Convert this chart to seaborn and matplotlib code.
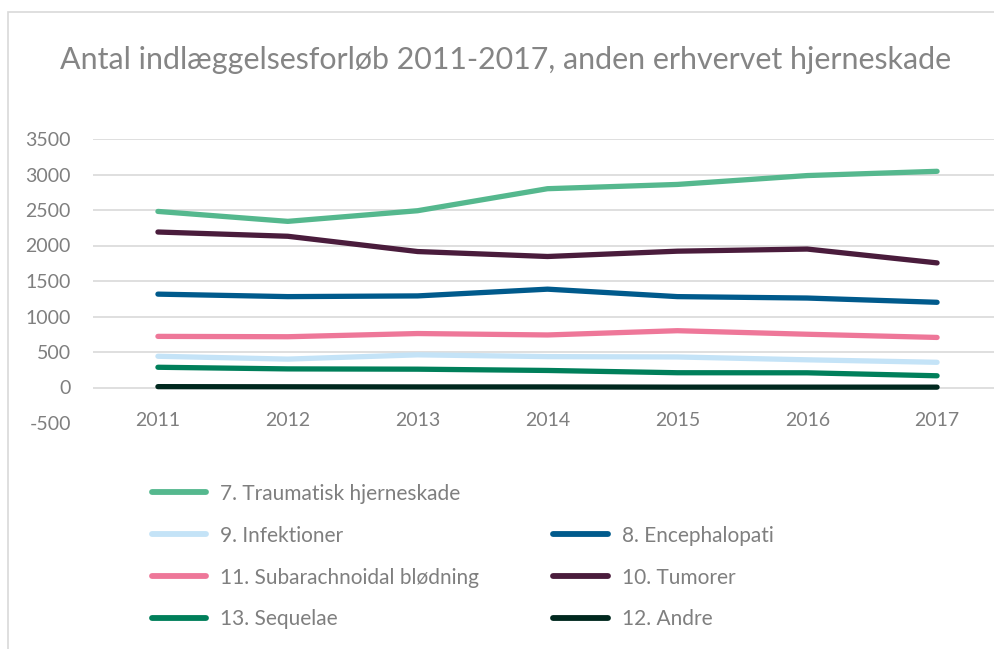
import matplotlib
matplotlib.use("Agg")
import matplotlib.pyplot as plt
from matplotlib.lines import Line2D
from matplotlib.patches import Rectangle
import seaborn as sns
import pandas as pd

years = [2011, 2012, 2013, 2014, 2015, 2016, 2017]
series_names = [
    "7. Traumatisk hjerneskade",
    "8. Encephalopati",
    "9. Infektioner",
    "10. Tumorer",
    "11. Subarachnoidal blødning",
    "12. Andre",
    "13. Sequelae",
]
traumatisk = [2480, 2340, 2490, 2800, 2860, 2985, 3045]
encephalopati = [1315, 1280, 1290, 1385, 1280, 1260, 1200]
infektioner = [440, 400, 460, 435, 430, 390, 355]
tumorer = [2190, 2130, 1915, 1845, 1920, 1950, 1755]
subarachnoidal = [720, 715, 760, 740, 800, 750, 705]
andre = [12, 10, 8, 8, 5, 5, 5]
sequelae = [285, 262, 258, 240, 208, 207, 165]

colors = ["#55B88E", "#005A8C", "#C4E3F7", "#4A1C3C", "#EE7799", "#00281E", "#007F5A"]

values = [traumatisk, encephalopati, infektioner, tumorer, subarachnoidal, andre, sequelae]
rows = []
for name, vals in zip(series_names, values):
    for i, v in enumerate(vals):
        rows.append({"pos": i, "year": years[i], "serie": name, "antal": v})
df = pd.DataFrame(rows)

sns.set_style("white")
plt.rcParams["font.family"] = ["Lato", "DejaVu Sans"]
plt.rcParams["axes.unicode_minus"] = False
grey = "#7F7F7F"

fig = plt.figure(figsize=(9.95, 6.49), dpi=100)
ax = fig.add_axes([93 / 995, 1 - 423 / 649, 909 / 995, 284 / 649])

ax = sns.lineplot(data=df, x="pos", y="antal", hue="serie", hue_order=series_names,
                  palette=colors, linewidth=3.8, ax=ax, legend=False,
                  solid_capstyle="round")

ax.set_xlim(-0.5, 6.5)
ax.set_ylim(-500, 3500)
ax.set_yticks(range(-500, 3501, 500))
ax.set_xticks(range(len(years)))
ax.set_xticklabels([str(y) for y in years])
ax.set_xlabel("")
ax.set_ylabel("")
ax.yaxis.grid(True, color="#D9D9D9", linewidth=1.2)
ax.set_axisbelow(True)
for t in ax.yaxis.get_gridlines()[:1]:
    t.set_visible(False)
for s in ax.spines.values():
    s.set_visible(False)
ax.tick_params(axis="y", length=0, pad=16, labelsize=14, labelcolor=grey)
ax.tick_params(axis="x", length=0, pad=-8, labelsize=14, labelcolor=grey)

fig.text(0.508, 1 - 60 / 649, "Antal indlæggelsesforløb 2011-2017, anden erhvervet hjerneskade",
         ha="center", va="center", fontsize=21.9, color="#858585")

# chart border
fig.patches.append(Rectangle((8 / 995, -0.1), 1.2, 1 - 12 / 649 + 0.1, transform=fig.transFigure,
                             fill=False, edgecolor="#D9D9D9", linewidth=1.2))

# legend, column-major with a blank slot
lh = {name: Line2D([], [], color=c, linewidth=4.2, solid_capstyle="round")
      for name, c in zip(series_names, colors)}
blank = Line2D([], [], color="none")
order_col1 = [series_names[i] for i in [0, 2, 4, 6]]
order_col2 = [None, series_names[1], series_names[3], series_names[5]]
handles = [lh[n] for n in order_col1] + [blank if n is None else lh[n] for n in order_col2]
labels = order_col1 + ["" if n is None else n for n in order_col2]
fig.legend(handles, labels, ncol=2, loc="upper left", bbox_to_anchor=(133 / 995, 1 - 465 / 649),
           frameon=False, fontsize=15, labelcolor=grey, handlelength=2.6,
           handletextpad=0.7, columnspacing=3.55, labelspacing=1.05)

fig.savefig("out.png", dpi=100)
